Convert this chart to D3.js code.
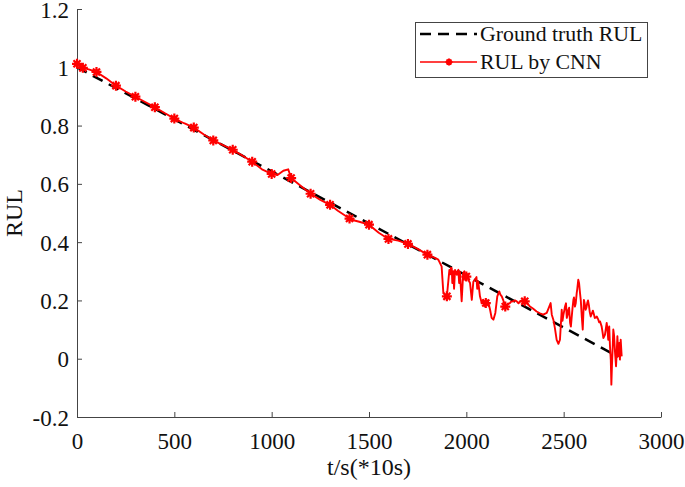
<!DOCTYPE html>
<html><head><meta charset="utf-8">
<script src="https://cdn.jsdelivr.net/npm/d3@7"></script>
<style>body{margin:0;background:#fff}svg{display:block}</style></head>
<body><svg id="c" width="685" height="487"></svg>
<script>
const xTicks=[0,500,1000,1500,2000,2500,3000];
const yTicks=[-0.2,0,0.2,0.4,0.6,0.8,1,1.2];
const yTickLabels=["-0.2","0","0.2","0.4","0.6","0.8","1","1.2"];
const seriesNames=["Ground truth RUL","RUL by CNN"];
const truthT=[0,2780];
const truthV=[1,0.007];
const cnnT=[0,30,60,100,150,200,250,300,350,400,450,500,550,600,650,700,750,800,850,900,950,1000,1030,1060,1085,1100,1150,1200,1250,1300,1340,1400,1420,1450,1500,1550,1600,1650,1700,1750,1800,
1839,1856,1873,1882,1900,1913,1918,1921,1925,1928,1933,1937,1942,1951,1955,1959,1963,1967,1976,1984,1990,1995,
2000,2005,2010,2019,2028,2036,2044,2052,2056,2061,2070,2079,2087,2096,2100,2110,2116,2122,2130,2139,2149,2159,2169,2175,2182,2190,
2200,2211,2224,2230,2241,2250,2259,2268,2276,2285,2300,2312,2327,2342,2361,2378,2395,2413,2426,2433,2439,2447,2455,2464,2473,2481,2490,2494,2498,
2503,2507,2512,2516,2520,2524,2528,2533,2537,2541,2545,2550,2553,2558,2562,2567,2570,2575,2579,2584,2588,2593,2598,
2604,2608,2613,2617,2621,2625,2630,2634,2639,2646,2650,2656,2660,2666,2670,2678,2682,2687,2695,
2700,2704,2712,2721,2725,2729,2734,2738,2742,2745,2748,2752,2755,2759,2764,2769,2772,2776,2781,2786,2789,2793,2798];
const cnnV=[1.012,0.998,0.993,0.984,0.962,0.937,0.917,0.899,0.881,0.863,0.843,0.824,0.808,0.793,0.770,0.749,0.733,0.717,0.697,0.676,0.650,0.634,0.630,0.645,0.650,0.620,0.593,0.566,0.545,0.528,0.508,0.481,0.475,0.470,0.460,0.432,0.411,0.405,0.394,0.377,0.357,
0.346,0.340,0.317,0.225,0.214,0.305,0.290,0.312,0.311,0.260,0.300,0.240,0.305,0.288,0.300,0.305,0.260,0.299,0.197,0.294,0.300,0.270,
0.282,0.290,0.271,0.260,0.202,0.264,0.271,0.280,0.240,0.265,0.214,0.191,0.202,0.179,0.191,0.200,0.185,0.168,0.140,0.134,0.157,0.214,0.231,0.220,0.214,0.200,
0.179,0.185,0.191,0.196,0.197,0.200,0.197,0.190,0.197,0.200,0.197,0.192,0.179,0.172,0.162,0.156,0.151,0.157,0.179,0.191,0.151,0.134,0.105,0.065,0.051,0.065,0.168,0.130,0.148,
0.165,0.179,0.190,0.140,0.150,0.168,0.175,0.123,0.110,0.141,0.170,0.202,0.210,0.179,0.190,0.225,0.240,0.271,0.260,0.225,0.200,0.145,0.100,
0.202,0.190,0.168,0.175,0.191,0.200,0.182,0.160,0.145,0.157,0.165,0.151,0.140,0.141,0.145,0.134,0.125,0.128,0.111,
0.090,0.071,0.082,0.123,0.100,0.065,0.111,0.042,-0.003,-0.089,-0.024,0.042,0.100,0.079,0.020,-0.026,0.014,0.077,0.008,0.054,-0.003,0.065,0.008];
const markerT=[0,30,100,200,300,400,500,600,700,800,900,1000,1100,1200,1300,1400,1500,1600,1700,1800,1900,2000,2100,2200,2300];

const W=685,H=487,L=77,R=661,T=9,B=417;
const FONT='"Liberation Serif","Times New Roman",serif';
const svg=d3.select('#c');
const x=d3.scaleLinear().domain([0,3000]).range([L,R]);
const y=d3.scaleLinear().domain([-0.2,1.2]).range([B,T]);
const axisColor='#444';

const n=Math.min(cnnT.length,cnnV.length);
const truth=truthT.map((t,i)=>({t,v:truthV[i]}));
const cnn=cnnT.slice(0,n).map((t,i)=>({t,v:cnnV[i]}));
const line=d3.line().x(d=>x(d.t)).y(d=>y(d.v));

// axes
const gx=svg.append('g').attr('transform',`translate(0,${B})`)
  .call(d3.axisBottom(x).tickValues(xTicks).tickSizeInner(-5).tickSizeOuter(0).tickFormat(d3.format('d')));
gx.selectAll('text').attr('dy',null).attr('y',32).style('font-family',FONT).style('font-size','23px').attr('fill','#111');
const gy=svg.append('g').attr('transform',`translate(${L},0)`)
  .call(d3.axisLeft(y).tickValues(yTicks).tickSizeInner(-5).tickSizeOuter(0).tickFormat((d,i)=>yTickLabels[i]));
gy.selectAll('text').attr('x',-8).attr('dy','0.35em').style('font-family',FONT).style('font-size','23px').attr('fill','#111');
svg.selectAll('.domain').attr('stroke',axisColor);
svg.selectAll('.tick line').attr('stroke',axisColor);

// lines
svg.append('path').datum(truth).attr('d',line).attr('fill','none').attr('stroke','#000')
  .attr('stroke-width',2.5).attr('stroke-dasharray','11,7');
svg.append('path').datum(cnn).attr('d',line).attr('fill','none').attr('stroke','#ff0000')
  .attr('stroke-width',1.9).attr('stroke-linejoin','round');

function star(g,cx,cy,r,w){
  const a=r*0.7071;
  const p=`M${cx-r},${cy}L${cx+r},${cy}M${cx},${cy-r}L${cx},${cy+r}M${cx-a},${cy-a}L${cx+a},${cy+a}M${cx-a},${cy+a}L${cx+a},${cy-a}`;
  g.append('path').attr('d',p).attr('stroke','#ff0000').attr('stroke-width',w).attr('fill','none');
}
const mk=svg.append('g');
cnn.filter(d=>markerT.includes(d.t)).forEach(d=>star(mk,x(d.t),y(d.v),5,2.2));

// labels
svg.append('text').attr('x',(L+R)/2).attr('y',475).attr('text-anchor','middle')
  .style('font-family',FONT).style('font-size','24px').attr('fill','#111').text('t/s(*10s)');
svg.append('text').attr('transform',`translate(22,${(T+B)/2}) rotate(-90)`).attr('text-anchor','middle')
  .style('font-family',FONT).style('font-size','24px').attr('fill','#111').text('RUL');

// legend
const lg=svg.append('g');
lg.append('rect').attr('x',415.5).attr('y',22.5).attr('width',232).attr('height',55)
  .attr('fill','#fff').attr('stroke',axisColor).attr('stroke-width',1);
lg.append('line').attr('x1',420).attr('x2',477).attr('y1',34).attr('y2',34)
  .attr('stroke','#000').attr('stroke-width',2.5).attr('stroke-dasharray','11,7');
lg.append('line').attr('x1',420).attr('x2',477).attr('y1',62).attr('y2',62)
  .attr('stroke','#ff0000').attr('stroke-width',1.6);
star(lg,449,62,3.5,2);
lg.selectAll('text.l').data(seriesNames).enter().append('text')
  .attr('x',480).attr('y',(d,i)=>41+i*28)
  .style('font-family',FONT).style('font-size','21.8px').attr('fill','#111').text(d=>d);
</script></body></html>
